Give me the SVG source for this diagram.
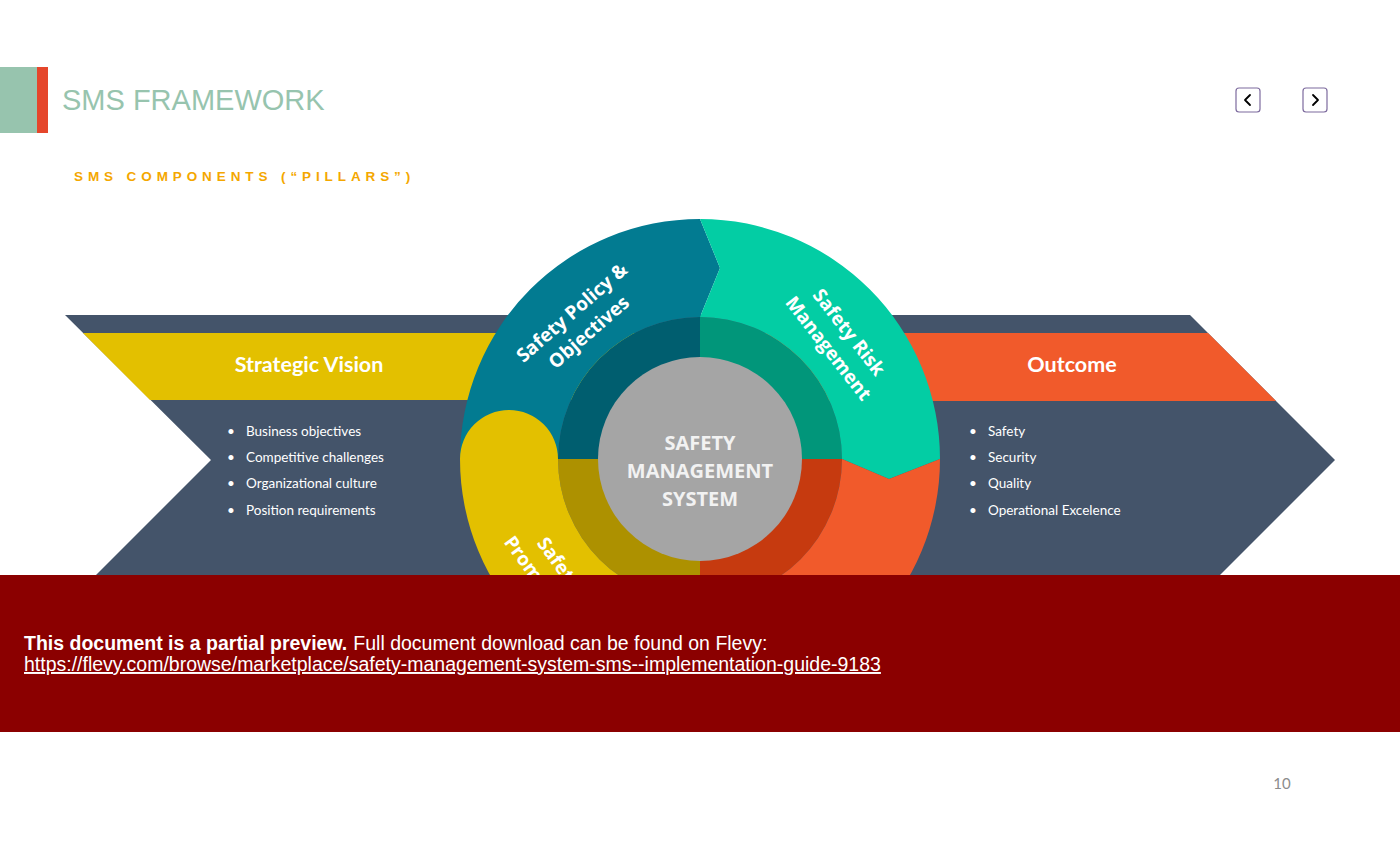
<svg xmlns="http://www.w3.org/2000/svg" width="1400" height="850" viewBox="0 0 1400 850">
<style>
.slate{fill:#44546a}
.lbl{font-family:Lato,"Liberation Sans",sans-serif;font-weight:bold;fill:#ffffff}
.bul{font-family:Lato,"Liberation Sans",sans-serif;font-size:13.5px;fill:#ffffff}
.arc{font-family:"Open Sans","Liberation Sans",sans-serif;font-weight:bold;font-size:19px;fill:#ffffff;text-anchor:middle}
.nav{fill:#ffffff;stroke:#7d6b9e;stroke-width:1.2}
.chev{fill:none;stroke:#000000;stroke-width:1.8;stroke-linecap:round;stroke-linejoin:round}
</style>
<rect width="1400" height="850" fill="#ffffff"/>

<g id="header">
  <rect x="0" y="67" width="37" height="66" fill="#97c4ae"/>
  <rect x="37" y="67" width="11" height="66" fill="#e5462b"/>
  <text x="62" y="110" font-family="'Liberation Sans',sans-serif" font-size="29" fill="#97c4ae">SMS FRAMEWORK</text>
  <text x="74" y="181" font-family="'Liberation Sans',sans-serif" font-size="13.5" font-weight="bold" fill="#f4a700" letter-spacing="4.9">SMS COMPONENTS (“PILLARS”)</text>
</g>

<g id="nav-prev">
  <rect class="nav" x="1236" y="88" width="24" height="24" rx="3"/>
  <path class="chev" d="M1250,95 L1245,100 L1250,105"/>
</g>
<g id="nav-next">
  <rect class="nav" x="1303" y="88" width="24" height="24" rx="3"/>
  <path class="chev" d="M1313,95 L1318,100 L1313,105"/>
</g>

<g id="strategic-vision">
  <polygon class="slate" points="65,315 700,315 700,605 66,605 211,460"/>
  <polygon fill="#e3c000" points="83,333 700,333 700,400 150,400"/>
  <text class="lbl" x="309" y="372" font-size="21.5" text-anchor="middle">Strategic Vision</text>
  <g class="bul">
    <text x="227" y="436">•</text><text x="246" y="436">Business objectives</text>
    <text x="227" y="462">•</text><text x="246" y="462">Competitive challenges</text>
    <text x="227" y="488">•</text><text x="246" y="488">Organizational culture</text>
    <text x="227" y="515">•</text><text x="246" y="515">Position requirements</text>
  </g>
</g>

<g id="outcome">
  <polygon class="slate" points="700,315 1190,315 1335,460 1190,605 700,605"/>
  <polygon fill="#f15a2b" points="700,333 1208,333 1276,401 700,401"/>
  <text class="lbl" x="1072" y="372" font-size="21.5" text-anchor="middle">Outcome</text>
  <g class="bul">
    <text x="969" y="436">•</text><text x="988" y="436">Safety</text>
    <text x="969" y="462">•</text><text x="988" y="462">Security</text>
    <text x="969" y="488">•</text><text x="988" y="488">Quality</text>
    <text x="969" y="515">•</text><text x="988" y="515">Operational Excelence</text>
  </g>
</g>

<g id="safety-policy">
  <path d="M700,459 L558,459 A142,142 0 0 1 700,317 Z" fill="#005e6f"/>
  <path d="M460,459 A240,240 0 0 1 700,219 L720,268 L700,317 A142,142 0 0 0 558,459 Z" fill="#027b91"/>
  <text class="arc" transform="translate(580,322) rotate(-41)"><tspan x="0" y="-6">Safety Policy &amp;</tspan><tspan x="0" y="20">Objectives</tspan></text>
</g>

<g id="safety-risk">
  <path d="M700,459 L700,317 A142,142 0 0 1 842,459 Z" fill="#01967a"/>
  <path d="M700,219 A240,240 0 0 1 940,459 L889,479 L842,459 A142,142 0 0 0 700,317 L720,268 Z" fill="#03cda4"/>
  <text class="arc" transform="translate(839,340) rotate(52)"><tspan x="0" y="-6">Safety Risk</tspan><tspan x="0" y="20">Management</tspan></text>
</g>

<g id="safety-assurance">
  <path d="M700,459 L842,459 A142,142 0 0 1 700,601 Z" fill="#c63a0f"/>
  <path d="M889,479 L940,459 A240,240 0 0 1 700,699 L680,650 L700,601 A142,142 0 0 0 842,459 Z" fill="#f15a2b"/>
</g>

<g id="safety-promotion">
  <path d="M700,459 L700,601 A142,142 0 0 1 558,459 Z" fill="#ad9100"/>
  <path d="M700,699 A240,240 0 0 1 460,459 A49,49 0 0 1 558,459 A142,142 0 0 0 700,601 L680,650 Z" fill="#e3c000"/>
  <text class="arc" transform="translate(549,571) rotate(54)"><tspan x="0" y="-6">Safety</tspan><tspan x="0" y="20">Promotion</tspan></text>
</g>

<g id="sms-core">
  <circle cx="700" cy="459" r="102" fill="#a5a5a5"/>
  <text font-family="'Open Sans','Liberation Sans',sans-serif" font-weight="bold" font-size="20" fill="#f2f2f2" text-anchor="middle">
    <tspan x="700" y="450">SAFETY</tspan><tspan x="700" y="478">MANAGEMENT</tspan><tspan x="700" y="506">SYSTEM</tspan>
  </text>
</g>

<g id="connectors"></g>

<g id="preview-banner">
  <rect x="0" y="575" width="1400" height="157" fill="#8b0000"/>
  <text x="24" y="650" font-family="'Liberation Sans',sans-serif" font-size="19.5" fill="#ffffff"><tspan font-weight="bold">This document is a partial preview.</tspan><tspan dx="6">Full document download can be found on Flevy:</tspan></text>
  <text x="24" y="671" font-family="'Liberation Sans',sans-serif" font-size="19.5" fill="#ffffff" text-decoration="underline">https://flevy.com/browse/marketplace/safety-management-system-sms--implementation-guide-9183</text>
</g>

<text x="1282" y="789" font-family="Lato,'Liberation Sans',sans-serif" font-size="15" fill="#8c8c8c" text-anchor="middle">10</text>
</svg>
